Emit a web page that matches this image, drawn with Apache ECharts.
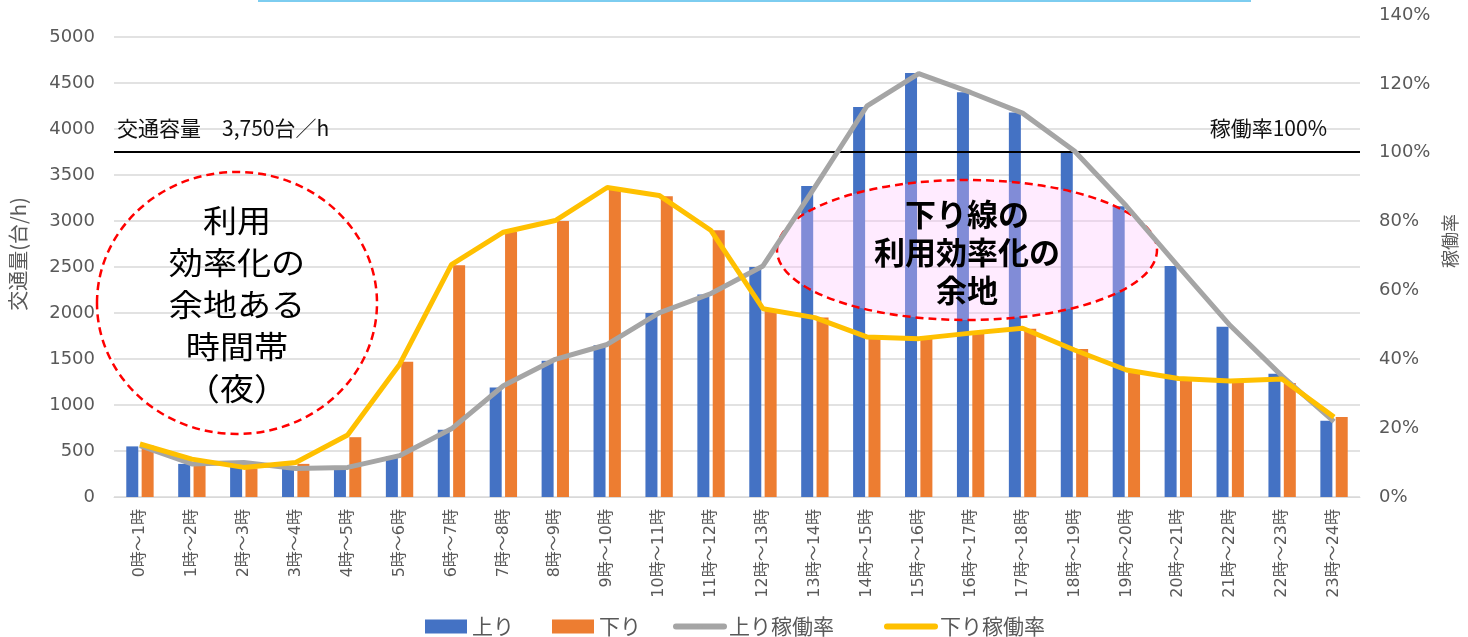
<!DOCTYPE html>
<html>
<head>
<meta charset="utf-8">
<title>時間帯別交通量と稼働率</title>
<script src="https://cdn.jsdelivr.net/npm/echarts@6/dist/echarts.min.js"></script>
<style>
  html, body { margin: 0; padding: 0; background: #fff; }
  #chart { width: 1468px; height: 637px; }
</style>
</head>
<body>
<div id="chart"></div>
<script>
// 時間帯
var hours = ['0時～1時', '1時～2時', '2時～3時', '3時～4時', '4時～5時', '5時～6時',
  '6時～7時', '7時～8時', '8時～9時', '9時～10時', '10時～11時', '11時～12時',
  '12時～13時', '13時～14時', '14時～15時', '15時～16時', '16時～17時', '17時～18時',
  '18時～19時', '19時～20時', '20時～21時', '21時～22時', '22時～23時', '23時～24時']

// 交通量 (台/h)
var upVolume = [550, 360, 370, 330, 320, 440, 730, 1190, 1480, 1650, 2000, 2200,
  2500, 3380, 4240, 4610, 4400, 4180, 3740, 3160, 2510, 1850, 1340, 830]
var downVolume = [560, 380, 310, 360, 650, 1470, 2520, 2880, 3000, 3340, 3270, 2900,
  2040, 1950, 1740, 1730, 1780, 1830, 1610, 1350, 1270, 1240, 1240, 870]

// 稼働率 (%)
var upRate = [14.9, 9.6, 10.0, 8.3, 8.6, 12.0, 19.8, 32.3, 40.0, 44.3, 53.5, 59.1,
  67.1, 90.0, 113.5, 123.0, 117.5, 111.5, 100.5, 84.5, 67.0, 49.8, 35.1, 21.9]
var downRate = [15.4, 11.0, 8.6, 10.0, 18.0, 38.5, 67.5, 76.9, 80.3, 89.9, 87.6, 77.4,
  54.7, 52.1, 46.5, 46.0, 47.6, 49.0, 42.7, 36.9, 34.4, 33.7, 34.3, 23.2]

var capacity = 3750
var volumeTicks = { min: 0, max: 5000, interval: 500 }
var rateTicks = { min: 0, max: 140, interval: 20 }

var textGrey = '#595959'
var gridGrey = '#d9d9d9'
var cjk = "'Noto Sans CJK JP', sans-serif"
var num = "'DejaVu Sans', 'Noto Sans CJK JP', sans-serif"

var chart = echarts.init(document.getElementById('chart'))

chart.setOption({
  animation: false,
  textStyle: { fontFamily: cjk },
  legend: [
    {
      // 棒の凡例
      left: 420,
      top: 611,
      itemWidth: 42,
      itemHeight: 14,
      itemGap: 38,
      textStyle: { color: textGrey, fontSize: 21, fontFamily: cjk },
      data: [
        { name: '上り', icon: 'rect' },
        { name: '下り', icon: 'rect' }
      ]
    },
    {
      // 線の凡例
      left: 668,
      top: 611,
      itemWidth: 48,
      itemHeight: 6,
      itemGap: 50,
      lineStyle: { width: 6, cap: 'round' },
      textStyle: { color: textGrey, fontSize: 21, fontFamily: cjk },
      data: ['上り稼働率', '下り稼働率']
    }
  ],
  grid: [
    { left: 114, right: 108, top: 37, bottom: 140 },
    { left: 114, right: 108, top: 15, bottom: 140 }
  ],
  xAxis: [
    {
      type: 'category',
      gridIndex: 0,
      data: hours,
      axisTick: { show: false },
      axisLine: { lineStyle: { color: gridGrey } },
      axisLabel: {
        interval: 0,
        rotate: 90,
        margin: 12,
        color: textGrey,
        fontSize: 16,
        fontFamily: num
      }
    },
    {
      type: 'category',
      gridIndex: 1,
      data: hours,
      show: false
    }
  ],
  yAxis: [
    {
      type: 'value',
      gridIndex: 0,
      min: volumeTicks.min,
      max: volumeTicks.max,
      interval: volumeTicks.interval,
      name: '交通量(台/h)',
      nameLocation: 'middle',
      nameRotate: 90,
      nameGap: 86,
      nameTextStyle: { color: textGrey, fontSize: 20, padding: [0, 0, 0, 26] },
      axisLine: { show: false },
      axisTick: { show: false },
      axisLabel: {
        color: textGrey, fontSize: 18, margin: 19, fontFamily: num,
        formatter: function (v) { return String(v) }
      },
      splitLine: { lineStyle: { color: gridGrey, width: 1.5 } }
    },
    {
      type: 'value',
      gridIndex: 1,
      position: 'right',
      min: rateTicks.min,
      max: rateTicks.max,
      interval: rateTicks.interval,
      name: '稼働率',
      nameLocation: 'middle',
      nameRotate: 90,
      nameGap: 80,
      nameTextStyle: { color: textGrey, fontSize: 18, padding: [0, 0, 0, 30] },
      axisLine: { show: false },
      axisTick: { show: false },
      axisLabel: { color: textGrey, fontSize: 18, margin: 19, fontFamily: num, formatter: '{value}%' },
      splitLine: { show: false }
    }
  ],
  series: [
    {
      name: '上り',
      type: 'bar',
      xAxisIndex: 0,
      yAxisIndex: 0,
      z: 1,
      barWidth: 12,
      barGap: '28%',
      itemStyle: { color: '#4472c4' },
      data: upVolume,
      markLine: {
        silent: true,
        symbol: 'none',
        lineStyle: { color: '#000', width: 2, type: 'solid' },
        data: [
          {
            yAxis: capacity,
            label: {
              position: 'insideStartTop',
              formatter: '交通容量　3,750台／h',
              color: '#111',
              fontSize: 21,
              distance: [3, 13]
            }
          },
          {
            yAxis: capacity,
            label: {
              position: 'insideEndTop',
              formatter: '稼働率100%',
              color: '#111',
              fontSize: 21,
              distance: [33, 13]
            }
          }
        ]
      }
    },
    {
      name: '下り',
      type: 'bar',
      xAxisIndex: 0,
      yAxisIndex: 0,
      z: 1,
      barWidth: 12,
      itemStyle: { color: '#ed7d31' },
      data: downVolume
    },
    {
      name: '上り稼働率',
      type: 'line',
      xAxisIndex: 1,
      yAxisIndex: 1,
      z: 5,
      symbol: 'none',
      lineStyle: { color: '#a5a5a5', width: 5 },
      itemStyle: { color: '#a5a5a5' },
      data: upRate
    },
    {
      name: '下り稼働率',
      type: 'line',
      xAxisIndex: 1,
      yAxisIndex: 1,
      z: 5,
      symbol: 'none',
      lineStyle: { color: '#ffc000', width: 5 },
      itemStyle: { color: '#ffc000' },
      data: downRate
    }
  ],
  graphic: [
    // 上端の水色の線
    { type: 'rect', shape: { x: 258, y: 0, width: 993, height: 2 }, style: { fill: '#7dcdf0' }, silent: true },
    // 夜間の丸
    {
      type: 'ellipse',
      z: 3,
      silent: true,
      shape: { cx: 237, cy: 303, rx: 140, ry: 131 },
      style: { fill: 'none', stroke: '#ff0000', lineWidth: 2.5, lineDash: [8, 5] }
    },
    {
      type: 'text',
      z: 6,
      silent: true,
      x: 237,
      y: 304,
      scaleX: 1.1,
      style: {
        text: '利用\n効率化の\n余地ある\n時間帯\n（夜）',
        x: 0,
        y: 0,
        align: 'center',
        verticalAlign: 'middle',
        fontSize: 31,
        lineHeight: 42,
        fontFamily: cjk,
        fill: '#000'
      }
    },
    // 下り線の楕円
    {
      type: 'ellipse',
      z: 3,
      silent: true,
      shape: { cx: 967, cy: 250, rx: 190, ry: 70 },
      style: { fill: 'rgba(255, 195, 255, 0.33)', stroke: '#ff0000', lineWidth: 2.5, lineDash: [8, 5] }
    },
    {
      type: 'text',
      z: 6,
      silent: true,
      x: 967,
      y: 252,
      style: {
        text: '下り線の\n利用効率化の\n余地',
        x: 0,
        y: 0,
        align: 'center',
        verticalAlign: 'middle',
        fontSize: 31,
        fontWeight: 'bold',
        lineHeight: 38,
        fontFamily: cjk,
        fill: '#000'
      }
    }
  ]
})
</script>
</body>
</html>
